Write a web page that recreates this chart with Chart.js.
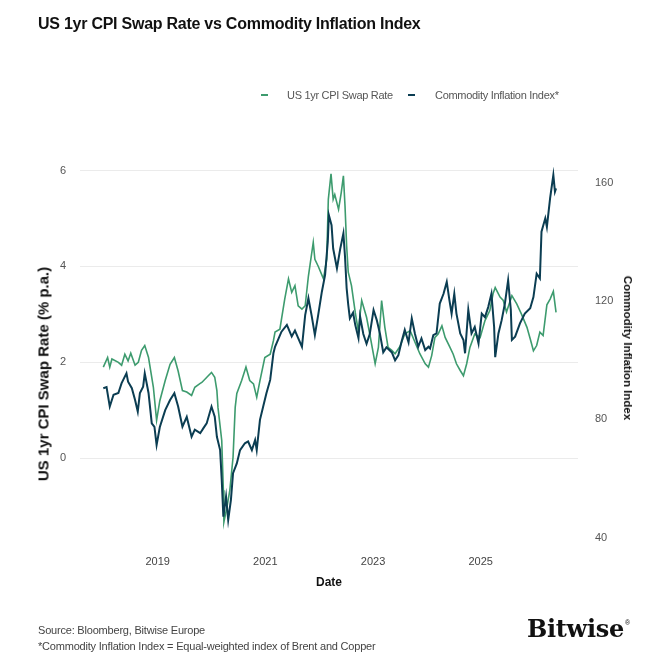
<!DOCTYPE html>
<html>
<head>
<meta charset="utf-8">
<script src="https://cdn.jsdelivr.net/npm/chart.js@4.4.1/dist/chart.umd.min.js"></script>
<style>
  html, body { margin: 0; padding: 0; background: #fff; }
  #wrap { position: relative; width: 671px; height: 671px; font-family: "Liberation Sans", Arial, sans-serif; overflow: hidden; }
  #chart { position: absolute; left: 0; top: 0; }
  .abs { position: absolute; white-space: nowrap; }
  .title { left: 38px; top: 15px; font-size: 16px; line-height: 18px; font-weight: bold; color: #111; letter-spacing: -0.25px; }
  .lg-box { height: 2px; width: 7px; }
  .lg-txt { font-size: 11px; line-height: 12px; color: #555; letter-spacing: -0.3px; }
  .ytitle { font-weight: bold; color: #111; transform: translate(-50%, -50%) rotate(-90deg); }
  .ytitle.right { transform: translate(-50%, -50%) rotate(90deg); }
  .foot { left: 38px; font-size: 11px; line-height: 12px; color: #444; letter-spacing: -0.2px; }
  .logo { left: 527px; top: 609px; font-family: "DejaVu Serif", serif; font-style: normal; font-weight: bold; font-size: 24px; line-height: 28px; color: #111; letter-spacing: -0.3px; }
  .logo sup { font-family: "Liberation Sans", Arial, sans-serif; font-size: 7px; font-weight: normal; vertical-align: 12px; margin-left: 1px; }
</style>
</head>
<body>
<div id="wrap">
  <canvas id="chart" width="671" height="671"></canvas>
  <div class="abs title">US 1yr CPI Swap Rate vs Commodity Inflation Index</div>

  <div class="abs lg-box" style="left:261px; top:94px; background:#3d9b6e;"></div>
  <div class="abs lg-txt" style="left:287px; top:89px;">US 1yr CPI Swap Rate</div>
  <div class="abs lg-box" style="left:408px; top:94px; background:#0b3d52;"></div>
  <div class="abs lg-txt" style="left:435px; top:89px;">Commodity Inflation Index*</div>

  <div class="abs ytitle" style="left:43px; top:374px; font-size:15px;">US 1yr CPI Swap Rate (% p.a.)</div>
  <div class="abs ytitle right" style="left:628px; top:348px; font-size:11.5px;">Commodity Inflation Index</div>

  <div class="abs foot" style="top:624px;">Source: Bloomberg, Bitwise Europe</div>
  <div class="abs foot" style="top:640px;">*Commodity Inflation Index = Equal-weighted index of Brent and Copper</div>
  <div class="abs logo">Bitwise<sup>®</sup></div>
</div>
<script>
// dates as decimal years
const swapDates = [2017.99, 2018.07, 2018.11, 2018.15, 2018.27, 2018.33, 2018.39, 2018.45, 2018.50, 2018.58,
  2018.64, 2018.70, 2018.76, 2018.83, 2018.92, 2018.98, 2019.04, 2019.14, 2019.23, 2019.31,
  2019.38, 2019.46, 2019.54, 2019.63, 2019.69, 2019.79, 2019.82, 2019.94, 2020.00, 2020.06,
  2020.10, 2020.12, 2020.19, 2020.22, 2020.23, 2020.29, 2020.34, 2020.40, 2020.44, 2020.47,
  2020.56, 2020.64, 2020.71, 2020.78, 2020.84, 2020.90, 2020.99, 2021.09, 2021.15, 2021.18,
  2021.27, 2021.36, 2021.43, 2021.49, 2021.55, 2021.61, 2021.68, 2021.74, 2021.80, 2021.89,
  2021.92, 2021.98, 2022.08, 2022.14, 2022.17, 2022.22, 2022.26, 2022.29, 2022.36, 2022.41,
  2022.45, 2022.48, 2022.51, 2022.54, 2022.60, 2022.67, 2022.73, 2022.76, 2022.79, 2022.88,
  2022.94, 2023.04, 2023.10, 2023.16, 2023.22, 2023.28, 2023.35, 2023.41, 2023.50, 2023.59,
  2023.69, 2023.78, 2023.87, 2023.97, 2024.03, 2024.09, 2024.15, 2024.21, 2024.28, 2024.34,
  2024.43, 2024.49, 2024.55, 2024.62, 2024.68, 2024.74, 2024.80, 2024.89, 2024.99, 2025.08,
  2025.17, 2025.23, 2025.27, 2025.36, 2025.42, 2025.48, 2025.58, 2025.67, 2025.76, 2025.86,
  2025.92, 2025.98, 2026.04, 2026.10, 2026.16, 2026.23, 2026.29, 2026.35, 2026.40];
const swapRate = [1.90, 2.10, 1.90, 2.07, 2.00, 1.94, 2.17, 2.03, 2.19, 1.94,
  2.00, 2.25, 2.35, 2.10, 1.48, 0.79, 1.20, 1.62, 1.96, 2.10,
  1.82, 1.41, 1.38, 1.31, 1.48, 1.56, 1.58, 1.72, 1.79, 1.69,
  1.41, 1.06, 0.37, -0.67, -1.33, -1.00, -0.67, 0.02, 1.06, 1.35,
  1.62, 1.90, 1.62, 1.55, 1.27, 1.62, 2.10, 2.17, 2.45, 2.63,
  2.69, 3.32, 3.74, 3.46, 3.60, 3.18, 3.11, 3.18, 3.80, 4.50,
  4.15, 4.01, 3.74, 4.15, 5.40, 5.93, 5.40, 5.50, 5.19, 5.54,
  5.89, 5.26, 4.43, 3.88, 3.60, 3.04, 2.63, 3.00, 3.29, 2.94,
  2.59, 1.97, 2.31, 3.29, 2.73, 2.31, 2.25, 2.18, 2.33, 2.59,
  2.66, 2.42, 2.18, 1.97, 1.90, 2.14, 2.52, 2.59, 2.76, 2.52,
  2.31, 2.17, 1.97, 1.83, 1.72, 1.97, 2.31, 2.59, 2.52, 2.87,
  3.08, 3.43, 3.56, 3.36, 3.29, 3.05, 3.39, 3.22, 3.00, 2.73,
  2.49, 2.24, 2.35, 2.63, 2.56, 3.20, 3.32, 3.48, 3.04];

const cmdtyDates = [2017.99, 2018.05, 2018.11, 2018.18, 2018.27, 2018.33, 2018.42, 2018.45, 2018.52, 2018.58,
  2018.63, 2018.67, 2018.73, 2018.76, 2018.83, 2018.89, 2018.94, 2018.98, 2019.04, 2019.14,
  2019.23, 2019.31, 2019.38, 2019.46, 2019.54, 2019.63, 2019.69, 2019.79, 2019.85, 2019.91,
  2020.00, 2020.06, 2020.10, 2020.16, 2020.19, 2020.22, 2020.27, 2020.31, 2020.36, 2020.40,
  2020.47, 2020.53, 2020.62, 2020.68, 2020.75, 2020.81, 2020.84, 2020.90, 2020.96, 2021.02,
  2021.09, 2021.15, 2021.18, 2021.30, 2021.40, 2021.49, 2021.55, 2021.61, 2021.68, 2021.74,
  2021.80, 2021.86, 2021.92, 2021.98, 2022.05, 2022.11, 2022.16, 2022.18, 2022.23, 2022.26,
  2022.33, 2022.39, 2022.45, 2022.48, 2022.51, 2022.54, 2022.57, 2022.63, 2022.67, 2022.73,
  2022.76, 2022.82, 2022.88, 2022.94, 2023.01, 2023.07, 2023.13, 2023.19, 2023.25, 2023.35,
  2023.41, 2023.47, 2023.53, 2023.59, 2023.66, 2023.72, 2023.78, 2023.84, 2023.90, 2023.97,
  2024.03, 2024.06, 2024.12, 2024.18, 2024.24, 2024.31, 2024.37, 2024.42, 2024.46, 2024.51,
  2024.55, 2024.62, 2024.68, 2024.71, 2024.77, 2024.83, 2024.89, 2024.96, 2025.02, 2025.08,
  2025.14, 2025.20, 2025.25, 2025.27, 2025.33, 2025.39, 2025.45, 2025.51, 2025.56, 2025.58,
  2025.64, 2025.73, 2025.82, 2025.92, 2025.98, 2026.04, 2026.10, 2026.13, 2026.20, 2026.23,
  2026.29, 2026.35, 2026.38, 2026.40];
const cmdtyIndex = [90.5, 90.9, 84.3, 88.3, 88.9, 92.2, 95.5, 92.7, 90.5, 86.5,
  82.6, 88.9, 91.0, 95.5, 88.9, 78.6, 77.4, 71.3, 77.4, 83.1,
  86.5, 88.8, 84.3, 77.5, 80.8, 74.1, 76.5, 75.3, 77.0, 78.6,
  84.3, 80.9, 74.1, 69.6, 59.5, 47.1, 53.9, 46.0, 52.7, 61.8,
  65.1, 69.6, 71.9, 72.5, 69.6, 73.0, 69.6, 79.8, 84.3, 88.8,
  93.3, 102.3, 104.5, 109.6, 111.9, 108.0, 110.0, 107.4, 104.5, 115.2,
  120.9, 115.0, 108.5, 115.0, 123.1, 128.8, 140.0, 149.0, 145.6, 137.7,
  131.0, 137.5, 142.8, 134.9, 124.3, 118.7, 114.1, 116.0, 111.9, 107.4,
  114.7, 108.8, 105.5, 108.8, 116.9, 113.5, 108.8, 102.6, 104.3, 102.6,
  99.9, 101.6, 106.2, 110.2, 106.0, 114.1, 108.8, 104.5, 107.3, 103.4,
  104.5, 103.9, 108.4, 109.0, 119.1, 122.4, 126.4, 120.2, 115.7, 122.4,
  115.7, 109.0, 106.8, 102.3, 117.0, 109.0, 111.2, 105.6, 115.7, 114.5,
  117.9, 122.4, 111.2, 101.0, 109.0, 113.5, 119.1, 127.0, 117.0, 106.8,
  107.9, 112.4, 115.7, 117.5, 121.3, 129.2, 127.6, 143.4, 147.9, 145.0,
  154.7, 162.5, 156.9, 158.0];

const yearTicks = [2019, 2021, 2023, 2025];
const swapTicks = [0, 2, 4, 6];
const indexTicks = [40, 80, 120, 160];

const green = '#3d9b6e';
const navy = '#0b3d52';
const tickFont = { family: '"Liberation Sans", Arial, sans-serif', size: 11 };

new Chart(document.getElementById('chart'), {
  type: 'line',
  data: {
    datasets: [
      {
        label: 'US 1yr CPI Swap Rate',
        data: swapDates.map((d, i) => ({ x: d, y: swapRate[i] })),
        borderColor: green,
        borderWidth: 1.6,
        yAxisID: 'y',
        order: 1
      },
      {
        label: 'Commodity Inflation Index*',
        data: cmdtyDates.map((d, i) => ({ x: d, y: cmdtyIndex[i] })),
        borderColor: navy,
        borderWidth: 2,
        yAxisID: 'y1',
        order: 0
      }
    ]
  },
  options: {
    responsive: false,
    animation: false,
    elements: { point: { radius: 0 }, line: { tension: 0 } },
    layout: { padding: { top: 160, bottom: 66, left: 0, right: 0 } },
    plugins: { legend: { display: false }, tooltip: { enabled: false } },
    scales: {
      x: {
        type: 'linear',
        min: 2017.557,
        max: 2026.808,
        afterBuildTicks: s => { s.ticks = yearTicks.map(v => ({ value: v })); },
        afterFit: s => { s.height = 60; },
        ticks: { color: '#444', font: tickFont, padding: 10, callback: v => String(v), maxRotation: 0 },
        grid: { display: false, drawTicks: false },
        border: { display: false },
        title: { display: true, text: 'Date', color: '#111', font: { family: tickFont.family, size: 12, weight: 'bold' }, padding: { top: 0, bottom: 15 } }
      },
      y: {
        position: 'left',
        min: -1.81,
        max: 6.22,
        afterBuildTicks: s => { s.ticks = swapTicks.map(v => ({ value: v })); },
        afterFit: s => { s.width = 80; },
        ticks: { color: '#555', font: tickFont, padding: 14 },
        grid: { color: '#ebebeb', lineWidth: 1, drawTicks: false },
        border: { display: false }
      },
      y1: {
        position: 'right',
        min: 37.53,
        max: 167.6,
        afterBuildTicks: s => { s.ticks = indexTicks.map(v => ({ value: v })); },
        afterFit: s => { s.width = 93; },
        ticks: { color: '#555', font: tickFont, padding: 17 },
        grid: { display: false, drawTicks: false },
        border: { display: false }
      }
    }
  }
});
</script>
</body>
</html>
